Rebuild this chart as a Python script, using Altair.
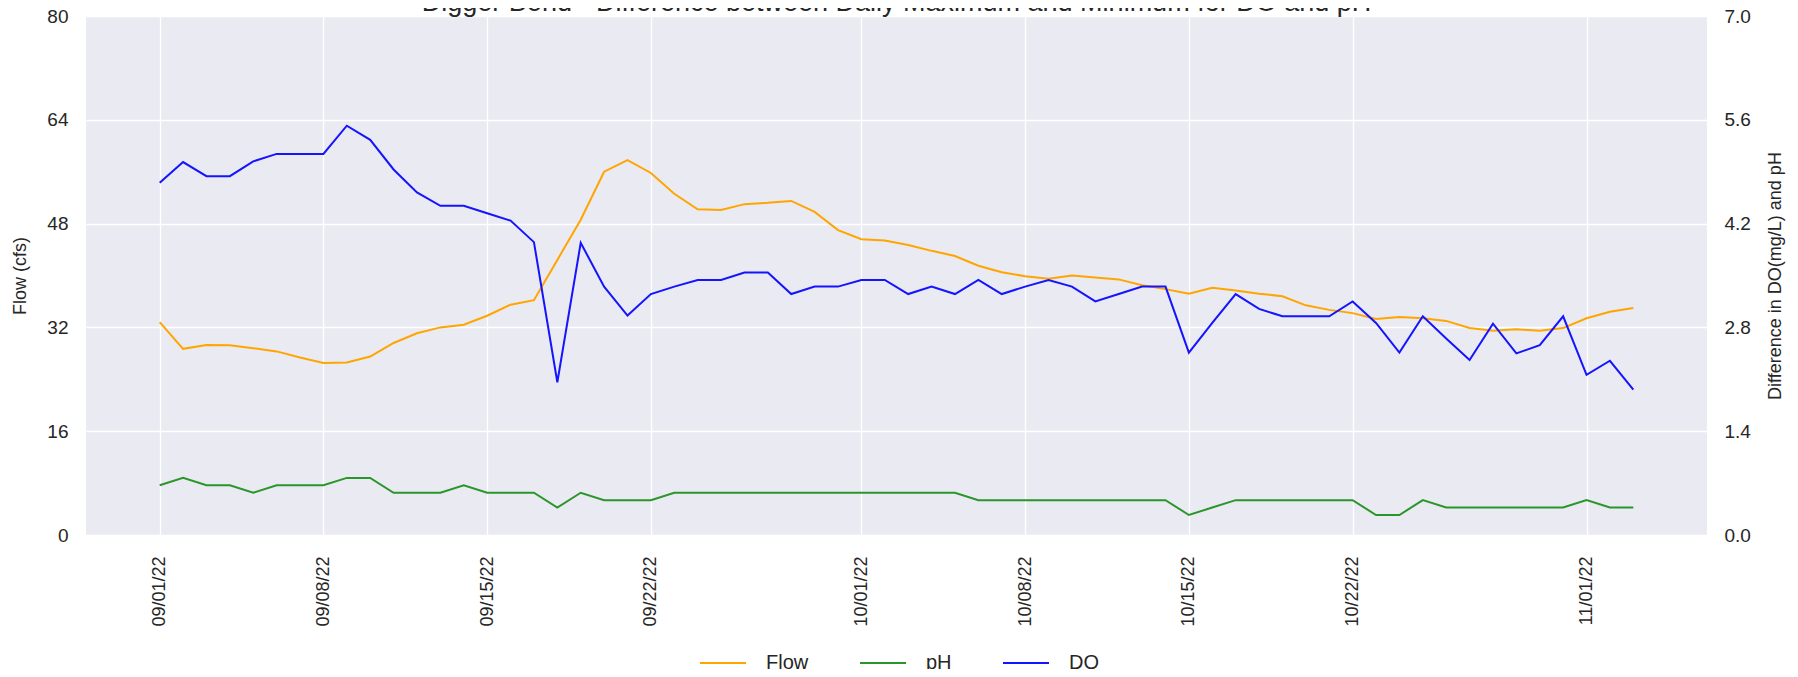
import altair as alt
import pandas as pd

TITLE = "Digger Bend - Difference between Daily Maximum and Minimum for DO and pH"

dates = pd.date_range("2022-09-01", periods=64, freq="D").strftime("%Y-%m-%d").tolist()

flow = [32.8, 28.7, 29.3, 29.25, 28.8, 28.3, 27.35, 26.5, 26.6, 27.5,
        29.6, 31.1, 32.0, 32.4, 33.8, 35.5, 36.2, 42.4, 48.6, 56.0,
        57.8, 55.8, 52.6, 50.2, 50.1, 51.0, 51.2, 51.5, 49.8, 47.0,
        45.6, 45.4, 44.7, 43.8, 43.0, 41.5, 40.5, 39.9, 39.5, 40.0,
        39.7, 39.4, 38.5, 37.9, 37.2, 38.1, 37.7, 37.2, 36.8, 35.4,
        34.7, 34.2, 33.3, 33.6, 33.4, 33.0, 31.9, 31.5, 31.7, 31.5,
        31.9, 33.4, 34.4, 35.0]

do_diff = [4.75, 5.03, 4.84, 4.84, 5.04, 5.14, 5.14, 5.14, 5.52, 5.33,
           4.93, 4.62, 4.44, 4.44, 4.34, 4.24, 3.95, 2.06, 3.94, 3.35,
           2.96, 3.25, 3.35, 3.44, 3.44, 3.54, 3.54, 3.25, 3.35, 3.35,
           3.44, 3.44, 3.25, 3.35, 3.25, 3.44, 3.25, 3.35, 3.44, 3.35,
           3.15, 3.25, 3.35, 3.35, 2.46, 2.86, 3.25, 3.05, 2.95, 2.95,
           2.95, 3.15, 2.86, 2.46, 2.95, 2.65, 2.36, 2.85, 2.45, 2.56,
           2.95, 2.16, 2.35, 1.96]

ph_diff = [0.67, 0.77, 0.67, 0.67, 0.57, 0.67, 0.67, 0.67, 0.77, 0.77,
           0.57, 0.57, 0.57, 0.67, 0.57, 0.57, 0.57, 0.37, 0.57, 0.47,
           0.47, 0.47, 0.57, 0.57, 0.57, 0.57, 0.57, 0.57, 0.57, 0.57,
           0.57, 0.57, 0.57, 0.57, 0.57, 0.47, 0.47, 0.47, 0.47, 0.47,
           0.47, 0.47, 0.47, 0.47, 0.27, 0.37, 0.47, 0.47, 0.47, 0.47,
           0.47, 0.47, 0.27, 0.27, 0.47, 0.37, 0.37, 0.37, 0.37, 0.37,
           0.37, 0.47, 0.37, 0.37]

series_names = ["Flow", "pH", "DO"]
series_colors = ["#FFA500", "#2a962a", "#1414FF"]

x_tick_dates = [(2022, 9, 1), (2022, 9, 8), (2022, 9, 15), (2022, 9, 22),
                (2022, 10, 1), (2022, 10, 8), (2022, 10, 15), (2022, 10, 22),
                (2022, 11, 1)]
flow_ticks = [0, 16, 32, 48, 64, 80]
diff_ticks = [0.0, 1.4, 2.8, 4.2, 5.6, 7.0]

FONT = "Liberation Sans"
TEXT_COLOR = "#262626"

W, H = 1621, 519

df_flow = pd.DataFrame({"date": dates, "value": flow, "series": "Flow"})
df_right = pd.concat([
    pd.DataFrame({"date": dates, "value": ph_diff, "series": "pH"}),
    pd.DataFrame({"date": dates, "value": do_diff, "series": "DO"}),
], ignore_index=True)

x_enc = alt.X(
    "date:T",
    scale=alt.Scale(
        type="utc",
        domain=[alt.DateTime(year=2022, month=8, date=28, hours=20, minutes=24, utc=True),
                alt.DateTime(year=2022, month=11, date=6, hours=3, minutes=36, utc=True)],
    ),
    axis=alt.Axis(
        values=[alt.DateTime(year=y, month=m, date=d, utc=True) for (y, m, d) in x_tick_dates],
        format="%m/%d/%y",
        labelAngle=270,
        labelFontSize=18,
        labelPadding=21,
        labelFont=FONT,
        labelColor=TEXT_COLOR,
        title=None,
        grid=True,
        gridColor="white",
        gridWidth=1.3,
        ticks=False,
        domain=False,
    ),
)

color_enc = alt.Color(
    "series:N",
    scale=alt.Scale(domain=series_names, range=series_colors),
    legend=alt.Legend(
        title=None,
        orient="none",
        legendX=613,
        legendY=623,
        direction="horizontal",
        gridAlign="each",
        symbolType="stroke",
        symbolSize=2116,
        symbolStrokeWidth=2,
        labelFontSize=20,
        labelFont=FONT,
        labelColor=TEXT_COLOR,
        labelOffset=19,
        columnPadding=47,
        padding=0,
    ),
)

flow_line = alt.Chart(df_flow).mark_line(strokeWidth=2).encode(
    x=x_enc,
    y=alt.Y(
        "value:Q",
        scale=alt.Scale(domain=[0, 80], nice=False, zero=False),
        axis=alt.Axis(
            orient="left",
            values=flow_ticks,
            title="Flow (cfs)",
            titleFontSize=18,
            titleFont=FONT,
            titleColor=TEXT_COLOR,
            titleFontWeight="normal",
            titleAngle=270,
            titleX=-66,
            titleY=H / 2,
            titleAlign="center",
            titleBaseline="middle",
            labelFontSize=19,
            labelFont=FONT,
            labelColor=TEXT_COLOR,
            labelPadding=18,
            grid=True,
            gridColor="white",
            gridWidth=1.3,
            ticks=False,
            domain=False,
        ),
    ),
    color=color_enc,
)

right_lines = alt.Chart(df_right).mark_line(strokeWidth=2).encode(
    x=x_enc,
    y=alt.Y(
        "value:Q",
        scale=alt.Scale(domain=[0, 7], nice=False, zero=False),
        axis=alt.Axis(
            orient="right",
            values=diff_ticks,
            format=".1f",
            title="Difference in DO(mg/L) and pH",
            titleFontSize=18,
            titleFont=FONT,
            titleColor=TEXT_COLOR,
            titleFontWeight="normal",
            titleAngle=270,
            titleX=68,
            titleY=H / 2,
            titleAlign="center",
            titleBaseline="middle",
            labelFontSize=19,
            labelFont=FONT,
            labelColor=TEXT_COLOR,
            labelPadding=17,
            grid=False,
            ticks=False,
            domain=False,
        ),
    ),
    color=color_enc,
    order=alt.Order("date:T"),
)

title_text = alt.Chart(pd.DataFrame({"t": [TITLE]})).mark_text(
    fontSize=27, font=FONT, color=TEXT_COLOR, align="center", baseline="alphabetic"
).encode(
    text="t:N",
    x=alt.value(W / 2),
    y=alt.value(-5),
)

chart = alt.layer(flow_line, right_lines, title_text).resolve_scale(
    y="independent"
).properties(
    width=W,
    height=H,
    padding={"left": 78, "top": 8, "right": 83, "bottom": 134},
    autosize=alt.AutoSizeParams(type="none"),
).configure_view(
    fill="#EAEAF2",
    stroke=None,
)

chart.save("out.html", embed_options={"renderer": "svg", "actions": False})
